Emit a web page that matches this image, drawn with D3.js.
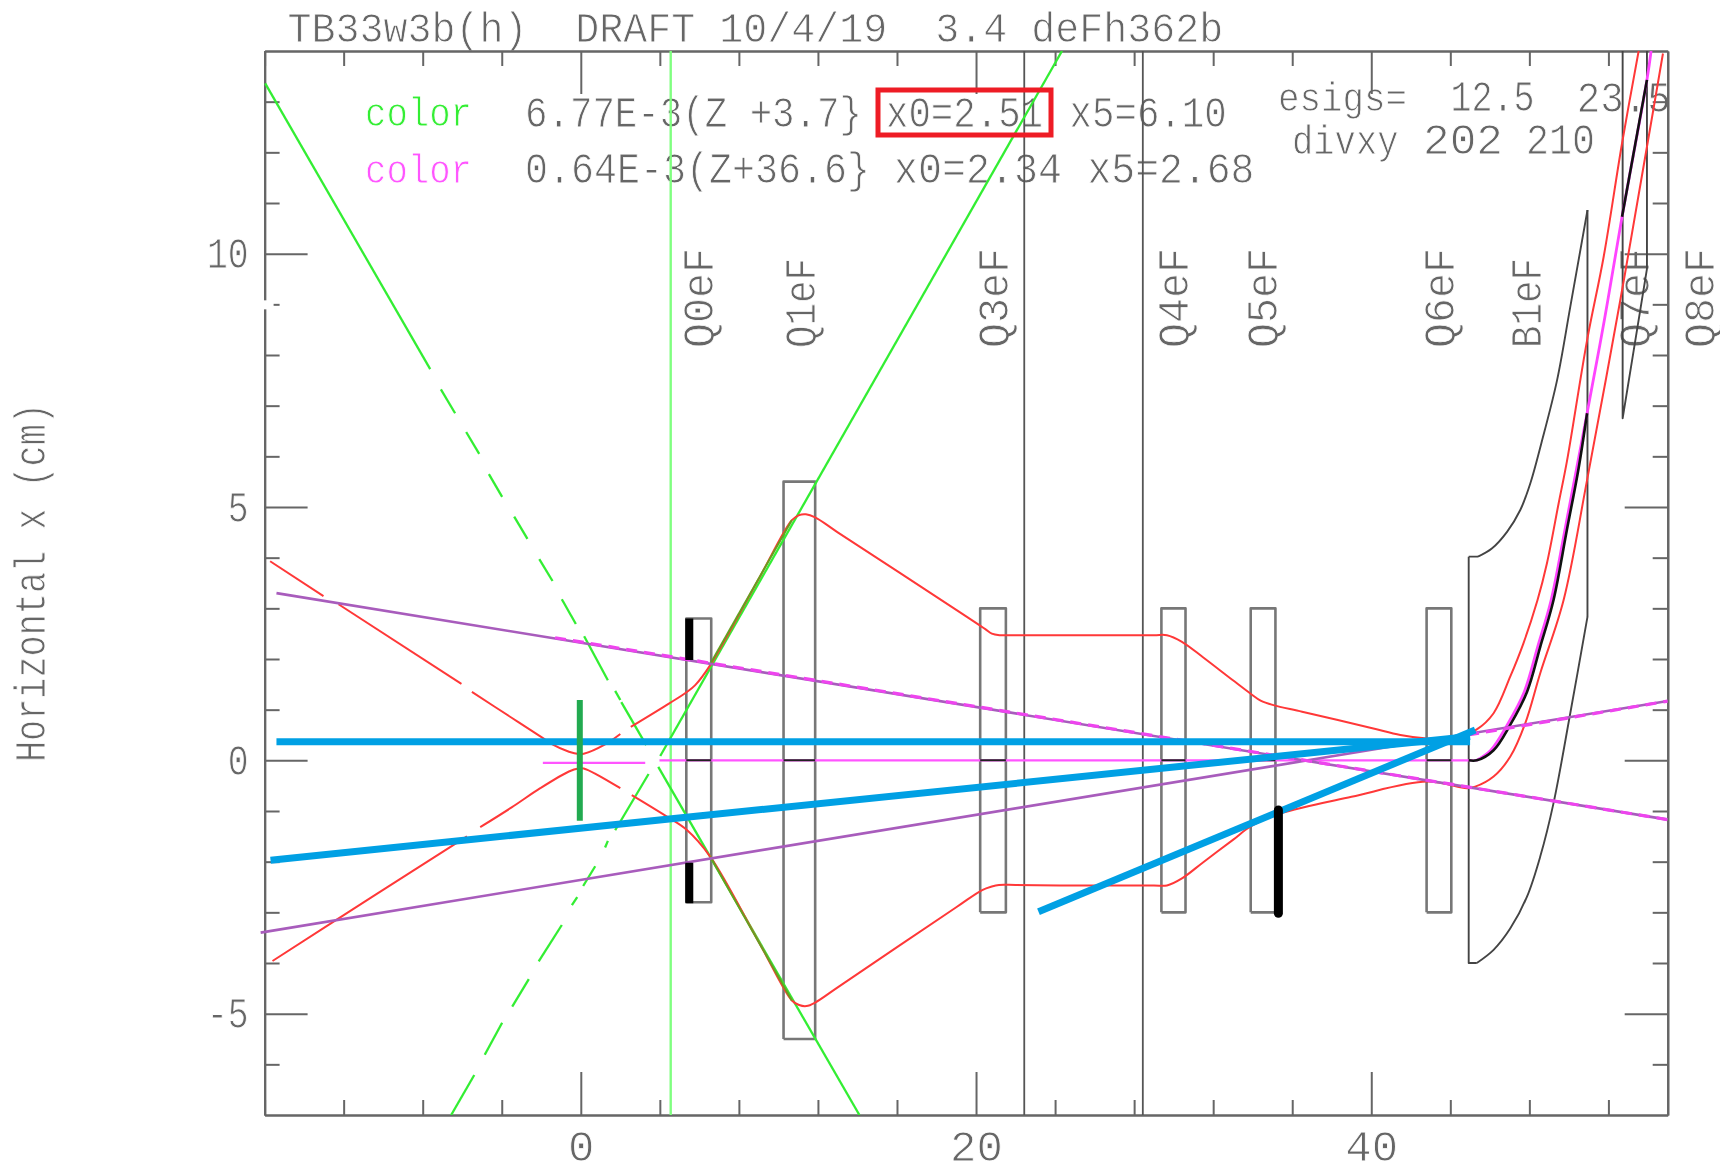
<!DOCTYPE html>
<html>
<head>
<meta charset="utf-8">
<script src="https://cdn.jsdelivr.net/npm/d3@7"></script>
<style>
  html, body { margin: 0; background: #fff; }
  svg { display: block; filter: blur(0.4px); }
  text { white-space: pre; }
</style>
</head>
<body>
<div id="plot"></div>
<script>
// axis ticks
const xMajorTicks = [0, 20, 40];
const xMinorTicks = [-16, -12, -8, -4, 4, 8, 12, 16, 24, 28, 32, 36, 44, 48, 52];
const yMajorTicks = [-5, 0, 5, 10];
const yMinorTicks = [-6, -4, -3, -2, -1, 1, 2, 3, 4, 6, 7, 8, 9, 11, 12, 13];

// quads: name, z start, z end, half aperture
const quadNames = ["Q0eF", "Q1eF", "Q3eF", "Q4eF", "Q5eF", "Q6eF"];
const quadStart = [5.34, 10.26, 20.21, 29.38, 33.9, 42.8];
const quadEnd = [6.6, 11.86, 21.51, 30.6, 35.15, 44.05];
const quadAperture = [2.8, 5.5, 3, 3, 3, 3];

const magnetLabels = ["Q0eF", "Q1eF", "Q3eF", "Q4eF", "Q5eF", "Q6eF", "B1eF", "Q7eF", "Q8eF"];
const magnetLabelZ = [6.69, 11.86, 21.64, 30.72, 35.24, 44.2, 48.6, 54.03, 57.32];

const blackVerticals = [22.44, 28.44];
const greenVertical = 4.55;

// B1 outline
const b1Sides = [[[44.93, 4.02], [44.93, -4], [45.34, -4]], [[50.94, 10.86], [50.94, 2.83]], [[44.93, 4.02], [45.4, 4.02]]];
const b1Upper = [[45.4, 4.02], [46.1, 4.18], [46.87, 4.51], [47.54, 4.94], [48.05, 5.47], [48.6, 6.25],
  [49.4, 7.5], [50.07, 8.95], [50.94, 10.86]];
const b1Lower = [[45.34, -4], [46.19, -3.74], [47.03, -3.32], [47.88, -2.69], [48.55, -1.9], [49.22, -0.85],
  [50.07, 0.93], [50.94, 2.83]];
const q7Outline = [[52.72, 14.2], [52.72, 6.75], [53.95, 9.7], [53.95, 14.2]];

// green rays, broken where the drawing has gaps
const greenDown = [
  [[-15.97, 13.36], [-7.62, 7.72]], [[-7.08, 7.32], [-6.36, 6.85]], [[-5.8, 6.48], [-5.14, 6.05]],
  [[-4.65, 5.65], [-3.98, 5.2]], [[-3.37, 4.81], [-2.7, 4.37]], [[-2.1, 3.97], [-1.43, 3.54]],
  [[-0.96, 3.18], [-0.25, 2.69]], [[0.17, 2.45], [1.37, 1.58]], [[1.74, 1.37], [2, 1.19]],
  [[2.05, 1.15], [3.31, 0.3]], [[3.92, -0.13], [14.1, -7]]
];
const greenUp = [
  [[-6.56, -7], [-5.39, -6.21]], [[-4.86, -5.81], [-3.98, -5.18]], [[-3.47, -4.86], [-2.63, -4.32]],
  [[-2.13, -3.97], [-0.96, -3.25]], [[-0.45, -2.86], [-0.18, -2.7]], [[0.12, -2.48], [0.73, -2.09]],
  [[1.23, -1.72], [1.37, -1.59]], [[1.74, -1.38], [3.43, -0.27]], [[4.02, 0.085], [24.35, 14]]
];
const oliveOverlap = [[[6.55, 1.9], [10.68, 4.74]], [[6.55, -1.9], [10.68, -4.74]]];

// red envelope
const redUpper = [
  [[-15.72, 3.93], [-13.02, 3.24]],
  [[-12.26, 3.08], [-6.04, 1.51]],
  [[-5.51, 1.35], [-3.5, 0.84], [-1.97, 0.454], [-1.46, 0.32], [-0.6, 0.17], [-0.1, 0.124], [0.15, 0.13], [1.23, 0.315], [2, 0.52]],
  [[2.53, 0.66], [4.5, 1.13], [5.37, 1.35], [5.79, 1.485], [6.55, 1.88], [9, 3.58], [10.68, 4.74], [11.05, 4.84], [11.39, 4.855], [11.86, 4.795],
   [13, 4.5], [19, 2.97], [20.47, 2.59], [20.8, 2.5], [21.2, 2.47], [22, 2.47], [25, 2.47], [29, 2.47], [29.66, 2.47], [30.42, 2.34],
   [31.5, 2.03], [33, 1.58], [33.88, 1.32], [34.4, 1.18], [35.05, 1.09], [36.5, 0.96], [40, 0.64], [41.47, 0.5], [42.82, 0.43], [44.2, 0.43],
   [45.34, 0.61], [46.19, 0.93], [47.03, 1.65], [47.7, 2.31], [48.41, 3.16],
   [48.89, 3.89], [49.48, 5.07], [49.9, 5.9], [50.92, 8.29], [51.76, 9.94], [52.69, 12.18], [53.53, 14]]
];
const redLower = [
  [[-15.6, -3.96], [-10.5, -2.68], [-5.76, -1.5]],
  [[-5.09, -1.32], [-3.5, -0.93], [-2.05, -0.55], [-0.6, -0.22], [-0.12, -0.16], [0.15, -0.16], [2, -0.55]],
  [[2.58, -0.685], [4.36, -1.11], [5.37, -1.375], [6.55, -1.9], [9, -3.58], [10.68, -4.74], [11.05, -4.83], [11.42, -4.85], [11.86, -4.78],
   [13, -4.48], [19, -2.9], [20.31, -2.56], [20.8, -2.49], [21.16, -2.46], [22, -2.46], [25, -2.47], [29, -2.47], [29.66, -2.47], [30.42, -2.33],
   [31.5, -2.01], [33, -1.57], [33.88, -1.31], [35.4, -1.05], [39, -0.72],
   [42.82, -0.42], [44.84, -0.55], [45.26, -0.52], [46.19, -0.32], [47.03, 0.07], [47.79, 0.73], [48.55, 1.72],
   [49.73, 3.16], [50.92, 5.53], [52.6, 9.08], [53.95, 12.11], [54.76, 13.95]]
];

// emittance lines
const purpleDown = [[-15.4, 3.3], [55, -1.17]];
const magentaDown = [[-1.3, 2.42], [55, -1.17]];
const purpleUp = [[-16.2, -3.4], [55, 1.17]];
const magentaUpRight = [[44.9, 0.5], [55, 1.17]];

// central ray
const magentaAxisLeft = [[-1.92, -0.05], [3.26, -0.05]];
const magentaAxisFlat = [[3.98, 0], [45.34, 0]];
const magentaCurve = [[45.34, 0], [46.05, 0.2], [46.88, 0.7], [47.74, 1.35], [48.42, 2.24], [49.1, 3.16], [49.8, 4.55],
  [50.4, 5.78], [50.92, 6.85], [51.8, 8.7], [52.69, 10.73], [53.95, 13.43], [54.16, 14]];
const blackRayLow = [[44.93, 0], [45.34, 0], [46.19, 0.2], [47.03, 0.7], [47.88, 1.35], [48.55, 2.24], [49.22, 3.16],
  [49.9, 4.55], [50.49, 5.76], [50.92, 6.85]];
const blackRayHigh = [[52.69, 10.73], [53.95, 13.43]];

// overlays
const blueLines = [
  [[-15.4, 0.367], [45, 0.367]],
  [[-15.7, -1.97], [45, 0.47]],
  [[23.16, -2.99], [45.26, 0.6]]
];
const greenMarker = [[-0.05, 1.19], [-0.05, -1.19]];
const blackBars = [
  { pts: [[5.49, 2.8], [5.49, 1.98]], w: 8, cap: "butt" },
  { pts: [[5.49, -2.02], [5.49, -2.82]], w: 8, cap: "butt" },
  { pts: [[35.3, -0.98], [35.3, -3.02]], w: 9, cap: "round" }
];

// text
const titleText = "TB33w3b(h)  DRAFT 10/4/19  3.4 deFh362b";
const yAxisLabel = "Horizontal x (cm)";

const width = 1720, height = 1167;
const plotLeft = 264.6, plotRight = 1667.7, plotTop = 51, plotBottom = 1115;

const textColor = "#666", frameColor = "#666";

const x = d3.scaleLinear().domain([-16, 55]).range([plotLeft, plotRight]);
const y = d3.scaleLinear().domain([-7, 14]).range([plotBottom, plotTop]);
const line = d3.line().x(d => x(d[0])).y(d => y(d[1]));
const smoothLine = d3.line().x(d => x(d[0])).y(d => y(d[1])).curve(d3.curveCatmullRom.alpha(0.5));

const svg = d3.select("#plot").append("svg")
  .attr("width", width).attr("height", height)
  .style("font-family", "'Liberation Mono', monospace");

svg.append("defs").append("clipPath").attr("id", "plotClip")
  .append("rect").attr("x", plotLeft - 5).attr("y", plotTop).attr("width", plotRight - plotLeft + 5).attr("height", plotBottom - plotTop);

// real text, thinned with a white outline because the original is a stroke font.
// Liberation Mono advance is 0.6em, squeeze it sideways to the wanted length
function put_text(str, px, py, len, size, color, rotate) {
  const sx = len / (str.length * 0.6 * size);
  svg.append("text")
    .text(str)
    .attr("font-size", size)
    .attr("fill", color)
    .attr("stroke", "#fff")
    .attr("stroke-width", 0.9)
    .attr("transform", `translate(${px},${py})` + (rotate ? " rotate(-90)" : "") + ` scale(${sx},1)`);
}

function add_texts() {
  put_text(titleText, 287.4, 41.7, 936, 43, textColor);
  put_text("color", 365, 126, 107, 40, "#33ee33");
  put_text("color", 365, 182.7, 107, 40, "#ff55ff");
  put_text("6.77E-3(Z +3.7}", 525, 126.5, 337, 44, textColor);
  put_text("0.64E-3(Z+36.6}", 525, 182.7, 345, 44, textColor);
  put_text("x0=2.51", 886, 126.5, 157, 44, textColor);
  put_text("x5=6.10", 1069.6, 126.5, 157, 44, textColor);
  put_text("x0=2.34", 894, 182.7, 168, 44, textColor);
  put_text("x5=2.68", 1087.5, 182.7, 167, 44, textColor);
  put_text("esigs=", 1278, 110.7, 129, 40, textColor);
  put_text("12.5", 1450.5, 110.7, 84, 44, textColor);
  put_text("23.5", 1576.7, 111.7, 94, 44, textColor);
  put_text("divxy", 1292, 153.5, 106.5, 40, textColor);
  put_text("202", 1423, 153.5, 80, 44, textColor);
  put_text("210", 1526, 153.5, 69, 44, textColor);
  put_text(yAxisLabel, 45, 762, 359, 44, textColor, true);

  magnetLabels.forEach((name, i) => {
    const short = name === "Q1eF" || name === "B1eF";
    put_text(name, x(magnetLabelZ[i]), 348, short ? 90 : 100, 44, textColor, true);
  });
}

function add_axes() {
  const xMinor = (fn) => fn(x).tickValues(xMinorTicks).tickFormat("").tickSizeInner(-15).tickSizeOuter(0);
  const xMajor = (fn) => fn(x).tickValues(xMajorTicks).tickFormat(String).tickSizeInner(-43).tickSizeOuter(0);
  const yMinor = (fn) => fn(y).tickValues(yMinorTicks).tickFormat("").tickSizeInner(-15).tickSizeOuter(0);
  const yMajor = (fn) => fn(y).tickValues(yMajorTicks).tickFormat(String).tickSizeInner(-43).tickSizeOuter(0);

  const groups = [
    svg.append("g").attr("transform", `translate(0,${plotBottom})`).call(xMinor(d3.axisBottom)),
    svg.append("g").attr("transform", `translate(0,${plotBottom})`).call(xMajor(d3.axisBottom).tickPadding(15)),
    svg.append("g").attr("transform", `translate(0,${plotTop})`).call(xMinor(d3.axisTop)),
    svg.append("g").attr("transform", `translate(0,${plotTop})`).call(xMajor(d3.axisTop).tickFormat("")),
    svg.append("g").attr("transform", `translate(${plotLeft},0)`).call(yMinor(d3.axisLeft)),
    svg.append("g").attr("class", "yLabels").attr("transform", `translate(${plotLeft},0)`).call(yMajor(d3.axisLeft).tickPadding(16)),
    svg.append("g").attr("transform", `translate(${plotRight},0)`).call(yMinor(d3.axisRight)),
    svg.append("g").attr("transform", `translate(${plotRight},0)`).call(yMajor(d3.axisRight).tickFormat(""))
  ];
  groups.forEach(g => {
    g.selectAll(".domain").attr("stroke", frameColor).attr("stroke-width", 2.2);
    g.selectAll("line").attr("stroke", frameColor).attr("stroke-width", 2);
    g.selectAll("text")
      .attr("font-family", "'Liberation Mono', monospace")
      .attr("font-size", 44)
      .attr("fill", textColor)
      .attr("stroke", "#fff")
      .attr("stroke-width", 0.9);
  });
  // y labels are set narrower than the x ones
  svg.selectAll(".yLabels text")
    .attr("textLength", d => String(d).length * 20.8)
    .attr("lengthAdjust", "spacingAndGlyphs");
  // the little break in the left axis
  svg.append("rect").attr("x", plotLeft - 3).attr("y", y(9) - 4).attr("width", 12).attr("height", 9).attr("fill", "#fff");
}

function add_paths(parent, data, color, w, cap, gen) {
  return parent.selectAll(null).data(data).join("path")
    .attr("d", gen || line)
    .attr("fill", "none")
    .attr("stroke", color)
    .attr("stroke-width", w)
    .attr("stroke-linecap", cap || "butt")
    .attr("stroke-linejoin", "round");
}

function add_marks() {
  const g = svg.append("g").attr("clip-path", "url(#plotClip)");

  add_paths(g, [[[greenVertical, -7], [greenVertical, 14]]], "#80ff80", 2.4);
  add_paths(g, blackVerticals.map(z => [[z, -7], [z, 14]]), "#555", 1.8);

  quadNames.forEach((name, i) => {
    const a = quadAperture[i];
    add_paths(g, [[[quadStart[i], -a], [quadStart[i], a], [quadEnd[i], a], [quadEnd[i], -a], [quadStart[i], -a]]], "#777", 2.6);
  });
  add_paths(g, b1Sides.concat([q7Outline]), "#444", 1.9);
  add_paths(g, [b1Upper, b1Lower], "#444", 1.9, "butt", smoothLine);

  add_paths(g, greenDown, "#33ee33", 2.3);
  add_paths(g, greenUp, "#33ee33", 2.3);
  add_paths(g, redUpper, "#ff3838", 2, "butt", smoothLine);
  add_paths(g, redLower, "#ff3838", 2, "butt", smoothLine);
  add_paths(g, oliveOverlap, "#66a020", 2);

  add_paths(g, [magentaAxisLeft, magentaAxisFlat], "#ff55ff", 2.4);
  add_paths(g, [magentaCurve], "#ff44ff", 2.8, "butt", smoothLine);
  quadNames.forEach((name, i) => {
    add_paths(g, [[[quadStart[i], 0], [quadEnd[i], 0]]], "#222", 2);
  });
  add_paths(g, [blackRayLow, blackRayHigh], "#111", 2.6, "butt", smoothLine);

  add_paths(g, [purpleDown, purpleUp], "#a85cbc", 2.6);
  add_paths(g, [magentaDown, magentaUpRight], "#ee44ee", 3.2).attr("stroke-dasharray", "11 7");

  add_paths(g, blueLines, "#00a0e4", 7);
  add_paths(g, [greenMarker], "#22aa50", 6);
  blackBars.forEach(b => add_paths(g, [b.pts], "#000", b.w, b.cap));

  // red annotation box round x0
  svg.append("rect").attr("x", 878).attr("y", 90).attr("width", 173).attr("height", 45)
    .attr("fill", "none").attr("stroke", "#ee1c25").attr("stroke-width", 5);
}

add_texts();
add_axes();
add_marks();
</script>
</body>
</html>
